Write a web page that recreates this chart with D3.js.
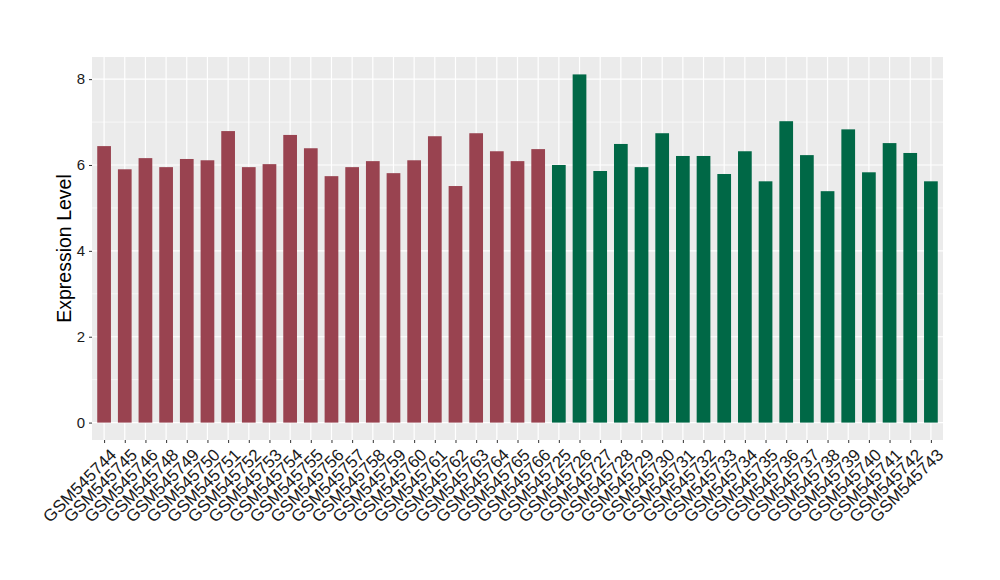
<!DOCTYPE html>
<html>
<head>
<meta charset="utf-8">
<script src="https://cdn.jsdelivr.net/npm/d3@7"></script>
<style>
  body { margin: 0; background: #fff; }
  text { font-family: "Liberation Sans", Arial, sans-serif; }
</style>
</head>
<body>
<svg id="chart" width="1000" height="580"></svg>
<script>
var samples = ["GSM545744","GSM545745","GSM545746","GSM545748","GSM545749","GSM545750","GSM545751","GSM545752","GSM545753","GSM545754","GSM545755","GSM545756","GSM545757","GSM545758","GSM545759","GSM545760","GSM545761","GSM545762","GSM545763","GSM545764","GSM545765","GSM545766",
  "GSM545725","GSM545726","GSM545727","GSM545728","GSM545729","GSM545730","GSM545731","GSM545732","GSM545733","GSM545734","GSM545735","GSM545736","GSM545737","GSM545738","GSM545739","GSM545740","GSM545741","GSM545742","GSM545743"];
var values = [6.44,5.90,6.16,5.95,6.14,6.11,6.79,5.95,6.02,6.70,6.39,5.74,5.95,6.09,5.81,6.11,6.67,5.51,6.74,6.32,6.09,6.37,
  6.00,8.11,5.86,6.49,5.95,6.74,6.21,6.21,5.79,6.32,5.62,7.02,6.23,5.39,6.83,5.83,6.51,6.28,5.62];
var groups = ["A","A","A","A","A","A","A","A","A","A","A","A","A","A","A","A","A","A","A","A","A","A",
  "B","B","B","B","B","B","B","B","B","B","B","B","B","B","B","B","B","B","B"];
var yTicks = [0, 2, 4, 6, 8];
var yMinor = [1, 3, 5, 7];

var svg = d3.select("#chart");
var pLeft = 92, pRight = 943, pTop = 57, pBottom = 440;

var color = d3.scaleOrdinal().domain(["A","B"]).range(["#994350","#006846"]);

var ymax = d3.max(values);
var y = d3.scaleLinear().domain([-ymax*0.05, ymax*1.05]).range([pBottom, pTop]);

var step = (pRight - pLeft) / (samples.length + 1.2);
var x = d3.scalePoint().domain(samples)
  .range([pLeft + 0.6*step, pRight - 0.6*step]);
var barW = step * 0.68;

// panel
svg.append("rect").attr("x", pLeft).attr("y", pTop)
  .attr("width", pRight-pLeft).attr("height", pBottom-pTop).attr("fill", "#EBEBEB");

svg.append("g").selectAll("line").data(yMinor).enter().append("line")
  .attr("x1", pLeft).attr("x2", pRight)
  .attr("y1", function(d){ return y(d); }).attr("y2", function(d){ return y(d); })
  .attr("stroke", "#fff").attr("stroke-width", 0.6);

svg.append("g").selectAll("line").data(yTicks).enter().append("line")
  .attr("x1", pLeft).attr("x2", pRight)
  .attr("y1", function(d){ return y(d); }).attr("y2", function(d){ return y(d); })
  .attr("stroke", "#fff").attr("stroke-width", 1.2);

svg.append("g").selectAll("line").data(samples).enter().append("line")
  .attr("x1", function(d){ return x(d); }).attr("x2", function(d){ return x(d); })
  .attr("y1", pTop).attr("y2", pBottom)
  .attr("stroke", "#fff").attr("stroke-width", 1.2);

// bars
svg.append("g").selectAll("rect").data(samples).enter().append("rect")
  .attr("x", function(d){ return x(d) - barW/2; })
  .attr("width", barW)
  .attr("y", function(d,i){ return y(values[i]); })
  .attr("height", function(d,i){ return y(0) - y(values[i]); })
  .attr("fill", function(d,i){ return color(groups[i]); });

// y axis
var ya = svg.append("g").attr("transform", "translate(" + pLeft + ",0)")
  .call(d3.axisLeft(y).tickValues(yTicks).tickSize(3).tickPadding(4).tickFormat(d3.format("d")));
ya.select(".domain").remove();
ya.selectAll(".tick line").attr("stroke", "#333");
ya.selectAll(".tick text").attr("font-size", 15).attr("fill", "#1a1a1a");

// x axis
var xa = svg.append("g").attr("transform", "translate(0," + pBottom + ")")
  .call(d3.axisBottom(x).tickSize(3).tickPadding(4));
xa.select(".domain").remove();
xa.selectAll(".tick line").attr("stroke", "#333");
xa.selectAll(".tick text")
  .attr("font-size", 17).attr("fill", "#1a1a1a")
  .attr("text-anchor", "end")
  .attr("dy", null)
  .attr("transform", "translate(8,11) rotate(-45)");

svg.append("text")
  .attr("transform", "translate(71," + ((pTop+pBottom)/2) + ") rotate(-90)")
  .attr("text-anchor", "middle")
  .attr("font-size", 19.5)
  .attr("fill", "#000")
  .text("Expression Level");
</script>
</body>
</html>
